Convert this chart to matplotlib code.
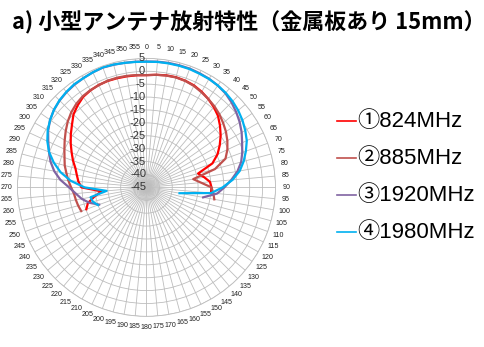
import numpy as np
import matplotlib

matplotlib.use("Agg")
from matplotlib import pyplot as plt
from matplotlib.lines import Line2D

plt.rcParams["font.family"] = ["Liberation Sans", "Noto Sans CJK JP", "DejaVu Sans"]

TITLE = "a) 小型アンテナ放射特性（金属板あり 15mm）"

# Measurement angles (deg, clockwise from top), front hemisphere only
ANGLES = [250, 255, 260, 265, 270, 275, 280, 285, 290, 295, 300, 305, 310, 315,
          320, 325, 330, 335, 340, 345, 350, 355, 0, 5, 10, 15, 20, 25, 30, 35,
          40, 45, 50, 55, 60, 65, 70, 75, 80, 85, 90, 95, 100]

# Relative gain (dB); None where no value was recorded
GAIN_824 = [-20.2, -21.5, -24.5, -27.5, -19.8, -18.5, -17.6, -16.5, -14.7, -13.0,
            -11.1, -9.2, -7.3, -5.0, -3.5, -2.2, -1.6, -1.2, -1.1, -1.2, -1.3,
            -1.4, -1.5, -1.2, -0.9, -0.8, -1.0, -1.4, -2.2, -3.2, -4.4, -5.8,
            -7.8, -9.9, -12.2, -14.6, -17.8, -24.3, -22.3, -20.3, -19.8, -19.9, None]
GAIN_885 = [-18.1, -17.6, -17.2, -16.8, -15.8, -14.6, -13.5, -12.2, -11.2, -9.9,
            -8.4, -6.8, -5.2, -3.8, -2.7, -1.9, -1.5, -1.3, -1.0, -1.0, -1.1,
            -1.3, -1.5, -1.2, -1.0, -0.9, -1.1, -1.6, -2.4, -3.2, -4.0, -5.0,
            -6.2, -7.4, -8.8, -10.4, -12.4, -17.5, -26.6, -23.8, -19.8, -19.0, -18.3]
GAIN_1920 = [-25.5, -22.0, -19.5, -17.5, -15.0, -11.5, -8.7, -6.5, -4.8, -3.0,
             -1.0, 0.6, 1.8, 2.6, 3.2, 3.6, 3.9, 4.2, 4.4, 4.2, 4.0, 3.9, 3.8,
             3.9, 4.0, 4.0, 4.0, 3.8, 3.6, 3.2, 2.6, 1.6, 0.4, -0.9, -2.4, -4.1,
             -5.5, -7.0, -9.2, -12.0, -14.8, -17.5, -22.7]
GAIN_1980 = [-25.0, -23.5, -23.0, -29.5, -21.0, -15.5, -11.2, -7.8, -4.8, -2.6,
             -0.8, 0.6, 1.8, 2.7, 3.3, 3.8, 3.9, 4.2, 4.5, 4.3, 4.0, 3.8, 3.7,
             3.8, 3.8, 3.8, 3.8, 3.6, 3.5, 3.2, 2.8, 2.2, 1.4, 0.4, -0.8, -2.1,
             -4.0, -6.0, -8.3, -11.5, -15.5, -19.8, -32.0]

SERIES = [
    ("①824MHz", GAIN_824, "#FF0000"),
    ("②885MHz", GAIN_885, "#C0504D"),
    ("③1920MHz", GAIN_1920, "#8064A2"),
    ("④1980MHz", GAIN_1980, "#00B0F0"),
]

R_MIN, R_MAX = -45, 5
R_TICKS = list(range(R_MIN, R_MAX + 1, 5))
THETA_TICKS = list(range(0, 360, 5))

fig = plt.figure(figsize=(4.85, 3.47), dpi=100)
ax = fig.add_axes([0.036, 0.088, 0.532, 0.744], projection="polar")
ax.set_theta_zero_location("N")
ax.set_theta_direction(-1)
ax.set_ylim(R_MIN, R_MAX)

theta = np.deg2rad(ANGLES)
for label, gain, color in SERIES:
    values = np.array([np.nan if g is None else g for g in gain], dtype=float)
    ax.plot(theta, values, color=color, linewidth=1.6, label=label)

ax.set_thetagrids(THETA_TICKS, [str(t) for t in THETA_TICKS])
for tick_label in ax.get_xticklabels():
    tick_label.set_fontsize(5.1)
    tick_label.set_family(["Liberation Sans Narrow", "Liberation Sans"])
ax.tick_params(axis="x", pad=-2.5, colors="#222222")
ax.set_rgrids(R_TICKS, [""] * len(R_TICKS))
ax.grid(True, color="#BDBDBD", linewidth=0.6)
ax.spines["polar"].set_color("#BDBDBD")
ax.spines["polar"].set_linewidth(0.6)

for r in R_TICKS:
    ax.text(np.deg2rad(-0.8), r, str(r), ha="right", va="center",
            fontsize=8, color="#333333")

fig.text(0.024, 0.934, TITLE, fontsize=15.8, fontweight="bold",
         family=["Noto Sans CJK JP"], ha="left", va="center")

# legend rows drawn by hand so spacing follows the figure layout
legend_top = 1 - 122 / 347
row_step = 37 / 347
for i, (label, _, color) in enumerate(SERIES):
    y = legend_top - i * row_step
    fig.add_artist(Line2D([337 / 485, 356 / 485], [y + 0.004, y + 0.004],
                          color=color, linewidth=1.2, transform=fig.transFigure))
    fig.text(357 / 485, y, label, fontsize=16, ha="left", va="center",
             family=["Liberation Sans", "Noto Sans CJK JP"])

fig.savefig("out.png", dpi=100)
